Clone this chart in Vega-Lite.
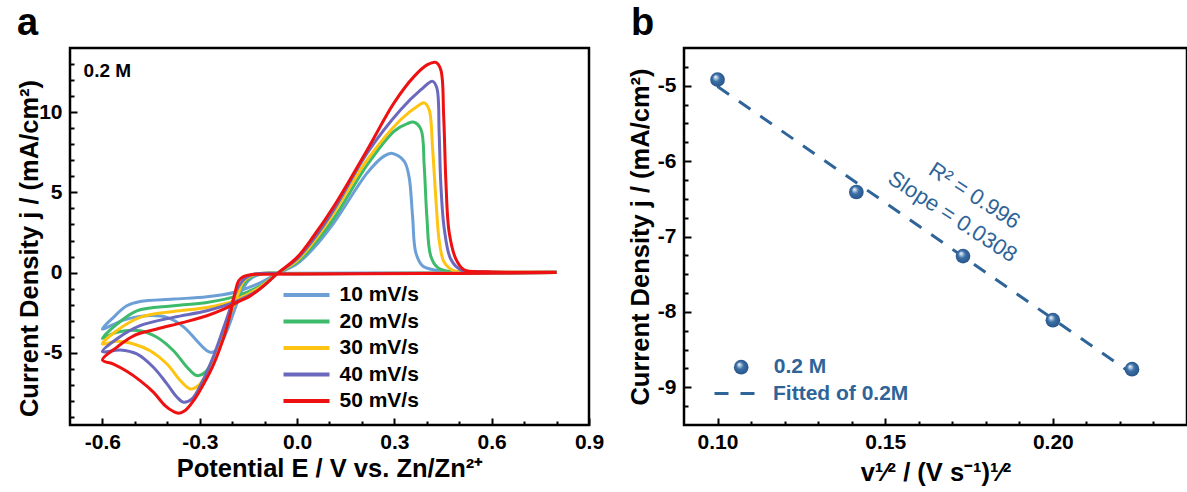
{
  "$schema": "https://vega.github.io/schema/vega-lite/v6.json",
  "background": "white",
  "padding": {"left": 15, "top": 3, "right": 0, "bottom": 0},
  "spacing": 95,
  "bounds": "flush",
  "resolve": {
    "scale": {"color": "independent", "shape": "independent", "strokeDash": "independent"},
    "legend": {"color": "independent", "shape": "independent", "strokeDash": "independent"}
  },
  "config": {
    "font": "Liberation Sans",
    "view": {"stroke": "black", "strokeWidth": 2.5},
    "locale": {"number": {"decimal": ".", "thousands": ",", "grouping": [3], "currency": ["$", ""], "minus": "-"}},
    "axis": {
      "domain": false, "grid": false,
      "labelFont": "Liberation Sans", "labelFontSize": 21, "labelFontWeight": "bold", "labelColor": "black",
      "titleFont": "Liberation Sans", "titleFontSize": 25.5, "titleFontWeight": "bold", "titleColor": "black",
      "tickColor": "black", "tickWidth": 2,
      "labelFlush": false, "labelOverlap": false, "labelBound": false
    },
    "legend": {"padding": 0, "labelFont": "Liberation Sans", "labelFontSize": 21, "labelFontWeight": "bold", "title": null}
  },
  "datasets": {
    "cv": [
      {"rate":"10 mV/s","i":1,"E":0.8,"j":0},{"rate":"10 mV/s","i":2,"E":0.5,"j":-0.02},{"rate":"10 mV/s","i":3,"E":0.2,"j":-0.03},{"rate":"10 mV/s","i":4,"E":0.0,"j":-0.04},{"rate":"10 mV/s","i":5,"E":-0.1,"j":-0.06},{"rate":"10 mV/s","i":6,"E":-0.128,"j":-0.2},{"rate":"10 mV/s","i":7,"E":-0.15,"j":-0.5},{"rate":"10 mV/s","i":8,"E":-0.17,"j":-1.14},{"rate":"10 mV/s","i":9,"E":-0.19,"j":-2.17},{"rate":"10 mV/s","i":10,"E":-0.216,"j":-3.62},{"rate":"10 mV/s","i":11,"E":-0.242,"j":-4.66},{"rate":"10 mV/s","i":12,"E":-0.262,"j":-4.97},{"rate":"10 mV/s","i":13,"E":-0.278,"j":-4.87},{"rate":"10 mV/s","i":14,"E":-0.309,"j":-4.25},{"rate":"10 mV/s","i":15,"E":-0.35,"j":-3.38},{"rate":"10 mV/s","i":16,"E":-0.401,"j":-2.79},{"rate":"10 mV/s","i":17,"E":-0.463,"j":-2.69},{"rate":"10 mV/s","i":18,"E":-0.535,"j":-2.96},{"rate":"10 mV/s","i":19,"E":-0.6,"j":-3.52},{"rate":"10 mV/s","i":20,"E":-0.566,"j":-2.79},{"rate":"10 mV/s","i":21,"E":-0.525,"j":-2.07},{"rate":"10 mV/s","i":22,"E":-0.484,"j":-1.8},{"rate":"10 mV/s","i":23,"E":-0.381,"j":-1.65},{"rate":"10 mV/s","i":24,"E":-0.278,"j":-1.51},{"rate":"10 mV/s","i":25,"E":-0.195,"j":-1.24},{"rate":"10 mV/s","i":26,"E":-0.123,"j":-0.72},{"rate":"10 mV/s","i":27,"E":-0.06,"j":-0.05},{"rate":"10 mV/s","i":28,"E":0.0,"j":0.55},{"rate":"10 mV/s","i":29,"E":0.05,"j":1.5},{"rate":"10 mV/s","i":30,"E":0.114,"j":3.12},{"rate":"10 mV/s","i":31,"E":0.217,"j":6.23},{"rate":"10 mV/s","i":32,"E":0.268,"j":7.26},{"rate":"10 mV/s","i":33,"E":0.294,"j":7.43},{"rate":"10 mV/s","i":34,"E":0.33,"j":6.95},{"rate":"10 mV/s","i":35,"E":0.345,"j":6.0},{"rate":"10 mV/s","i":36,"E":0.356,"j":3.53},{"rate":"10 mV/s","i":37,"E":0.366,"j":1.25},{"rate":"10 mV/s","i":38,"E":0.387,"j":0.42},{"rate":"10 mV/s","i":39,"E":0.423,"j":0.17},{"rate":"10 mV/s","i":40,"E":0.5,"j":0.05},{"rate":"10 mV/s","i":41,"E":0.8,"j":0.02},

      {"rate":"20 mV/s","i":1,"E":0.8,"j":0},{"rate":"20 mV/s","i":2,"E":0.5,"j":-0.03},{"rate":"20 mV/s","i":3,"E":0.2,"j":-0.05},{"rate":"20 mV/s","i":4,"E":0.0,"j":-0.06},{"rate":"20 mV/s","i":5,"E":-0.12,"j":-0.08},{"rate":"20 mV/s","i":6,"E":-0.145,"j":-0.3},{"rate":"20 mV/s","i":7,"E":-0.16,"j":-0.6},{"rate":"20 mV/s","i":8,"E":-0.175,"j":-1.03},{"rate":"20 mV/s","i":9,"E":-0.195,"j":-1.96},{"rate":"20 mV/s","i":10,"E":-0.221,"j":-3.41},{"rate":"20 mV/s","i":11,"E":-0.252,"j":-5.07},{"rate":"20 mV/s","i":12,"E":-0.283,"j":-6.21},{"rate":"20 mV/s","i":13,"E":-0.309,"j":-6.42},{"rate":"20 mV/s","i":14,"E":-0.339,"j":-5.9},{"rate":"20 mV/s","i":15,"E":-0.381,"j":-4.87},{"rate":"20 mV/s","i":16,"E":-0.432,"j":-4.03},{"rate":"20 mV/s","i":17,"E":-0.484,"j":-3.62},{"rate":"20 mV/s","i":18,"E":-0.556,"j":-3.72},{"rate":"20 mV/s","i":19,"E":-0.6,"j":-4.1},{"rate":"20 mV/s","i":20,"E":-0.556,"j":-3.23},{"rate":"20 mV/s","i":21,"E":-0.494,"j":-2.38},{"rate":"20 mV/s","i":22,"E":-0.381,"j":-2.07},{"rate":"20 mV/s","i":23,"E":-0.278,"j":-1.86},{"rate":"20 mV/s","i":24,"E":-0.185,"j":-1.45},{"rate":"20 mV/s","i":25,"E":-0.113,"j":-0.83},{"rate":"20 mV/s","i":26,"E":-0.06,"j":-0.05},{"rate":"20 mV/s","i":27,"E":0.0,"j":0.65},{"rate":"20 mV/s","i":28,"E":0.05,"j":1.7},{"rate":"20 mV/s","i":29,"E":0.114,"j":3.4},{"rate":"20 mV/s","i":30,"E":0.217,"j":6.74},{"rate":"20 mV/s","i":31,"E":0.299,"j":8.81},{"rate":"20 mV/s","i":32,"E":0.34,"j":9.29},{"rate":"20 mV/s","i":33,"E":0.361,"j":9.37},{"rate":"20 mV/s","i":34,"E":0.382,"j":8.92},{"rate":"20 mV/s","i":35,"E":0.392,"j":6.64},{"rate":"20 mV/s","i":36,"E":0.4,"j":3.53},{"rate":"20 mV/s","i":37,"E":0.412,"j":1.04},{"rate":"20 mV/s","i":38,"E":0.433,"j":0.32},{"rate":"20 mV/s","i":39,"E":0.46,"j":0.1},{"rate":"20 mV/s","i":40,"E":0.55,"j":0.03},{"rate":"20 mV/s","i":41,"E":0.8,"j":0.02},

      {"rate":"30 mV/s","i":1,"E":0.8,"j":0},{"rate":"30 mV/s","i":2,"E":0.5,"j":-0.04},{"rate":"30 mV/s","i":3,"E":0.2,"j":-0.05},{"rate":"30 mV/s","i":4,"E":0.0,"j":-0.07},{"rate":"30 mV/s","i":5,"E":-0.13,"j":-0.1},{"rate":"30 mV/s","i":6,"E":-0.155,"j":-0.35},{"rate":"30 mV/s","i":7,"E":-0.17,"j":-0.7},{"rate":"30 mV/s","i":8,"E":-0.18,"j":-1.24},{"rate":"30 mV/s","i":9,"E":-0.206,"j":-2.59},{"rate":"30 mV/s","i":10,"E":-0.236,"j":-4.45},{"rate":"30 mV/s","i":11,"E":-0.273,"j":-6.11},{"rate":"30 mV/s","i":12,"E":-0.304,"j":-7.04},{"rate":"30 mV/s","i":13,"E":-0.329,"j":-7.25},{"rate":"30 mV/s","i":14,"E":-0.36,"j":-6.73},{"rate":"30 mV/s","i":15,"E":-0.401,"j":-5.7},{"rate":"30 mV/s","i":16,"E":-0.453,"j":-4.87},{"rate":"30 mV/s","i":17,"E":-0.504,"j":-4.45},{"rate":"30 mV/s","i":18,"E":-0.556,"j":-4.28},{"rate":"30 mV/s","i":19,"E":-0.6,"j":-4.45},{"rate":"30 mV/s","i":20,"E":-0.556,"j":-3.62},{"rate":"30 mV/s","i":21,"E":-0.484,"j":-2.79},{"rate":"30 mV/s","i":22,"E":-0.381,"j":-2.42},{"rate":"30 mV/s","i":23,"E":-0.278,"j":-2.17},{"rate":"30 mV/s","i":24,"E":-0.195,"j":-1.76},{"rate":"30 mV/s","i":25,"E":-0.123,"j":-1.03},{"rate":"30 mV/s","i":26,"E":-0.06,"j":-0.05},{"rate":"30 mV/s","i":27,"E":0.0,"j":0.75},{"rate":"30 mV/s","i":28,"E":0.05,"j":1.9},{"rate":"30 mV/s","i":29,"E":0.114,"j":3.74},{"rate":"30 mV/s","i":30,"E":0.217,"j":7.05},{"rate":"30 mV/s","i":31,"E":0.32,"j":9.54},{"rate":"30 mV/s","i":32,"E":0.371,"j":10.37},{"rate":"30 mV/s","i":33,"E":0.392,"j":10.58},{"rate":"30 mV/s","i":34,"E":0.407,"j":10.16},{"rate":"30 mV/s","i":35,"E":0.418,"j":7.68},{"rate":"30 mV/s","i":36,"E":0.428,"j":4.57},{"rate":"30 mV/s","i":37,"E":0.439,"j":1.87},{"rate":"30 mV/s","i":38,"E":0.454,"j":0.63},{"rate":"30 mV/s","i":39,"E":0.485,"j":0.1},{"rate":"30 mV/s","i":40,"E":0.55,"j":0.04},{"rate":"30 mV/s","i":41,"E":0.8,"j":0.02},

      {"rate":"40 mV/s","i":1,"E":0.8,"j":0},{"rate":"40 mV/s","i":2,"E":0.5,"j":-0.04},{"rate":"40 mV/s","i":3,"E":0.2,"j":-0.06},{"rate":"40 mV/s","i":4,"E":0.0,"j":-0.08},{"rate":"40 mV/s","i":5,"E":-0.135,"j":-0.1},{"rate":"40 mV/s","i":6,"E":-0.16,"j":-0.35},{"rate":"40 mV/s","i":7,"E":-0.175,"j":-0.7},{"rate":"40 mV/s","i":8,"E":-0.185,"j":-1.03},{"rate":"40 mV/s","i":9,"E":-0.2,"j":-1.86},{"rate":"40 mV/s","i":10,"E":-0.226,"j":-3.41},{"rate":"40 mV/s","i":11,"E":-0.257,"j":-5.18},{"rate":"40 mV/s","i":12,"E":-0.293,"j":-6.83},{"rate":"40 mV/s","i":13,"E":-0.324,"j":-7.87},{"rate":"40 mV/s","i":14,"E":-0.35,"j":-8.08},{"rate":"40 mV/s","i":15,"E":-0.37,"j":-7.77},{"rate":"40 mV/s","i":16,"E":-0.401,"j":-6.94},{"rate":"40 mV/s","i":17,"E":-0.443,"j":-5.9},{"rate":"40 mV/s","i":18,"E":-0.494,"j":-5.07},{"rate":"40 mV/s","i":19,"E":-0.545,"j":-4.82},{"rate":"40 mV/s","i":20,"E":-0.6,"j":-4.93},{"rate":"40 mV/s","i":21,"E":-0.556,"j":-4.14},{"rate":"40 mV/s","i":22,"E":-0.484,"j":-3.31},{"rate":"40 mV/s","i":23,"E":-0.381,"j":-2.79},{"rate":"40 mV/s","i":24,"E":-0.278,"j":-2.38},{"rate":"40 mV/s","i":25,"E":-0.195,"j":-1.86},{"rate":"40 mV/s","i":26,"E":-0.123,"j":-1.14},{"rate":"40 mV/s","i":27,"E":-0.06,"j":-0.05},{"rate":"40 mV/s","i":28,"E":0.0,"j":0.85},{"rate":"40 mV/s","i":29,"E":0.05,"j":2.05},{"rate":"40 mV/s","i":30,"E":0.114,"j":3.94},{"rate":"40 mV/s","i":31,"E":0.217,"j":7.47},{"rate":"40 mV/s","i":32,"E":0.32,"j":10.16},{"rate":"40 mV/s","i":33,"E":0.382,"j":11.4},{"rate":"40 mV/s","i":34,"E":0.418,"j":11.92},{"rate":"40 mV/s","i":35,"E":0.431,"j":11.5},{"rate":"40 mV/s","i":36,"E":0.438,"j":8.71},{"rate":"40 mV/s","i":37,"E":0.443,"j":5.6},{"rate":"40 mV/s","i":38,"E":0.454,"j":2.7},{"rate":"40 mV/s","i":39,"E":0.474,"j":0.83},{"rate":"40 mV/s","i":40,"E":0.505,"j":0.17},{"rate":"40 mV/s","i":41,"E":0.56,"j":0.05},{"rate":"40 mV/s","i":42,"E":0.8,"j":0.02},

      {"rate":"50 mV/s","i":1,"E":0.8,"j":0},{"rate":"50 mV/s","i":2,"E":0.5,"j":-0.05},{"rate":"50 mV/s","i":3,"E":0.2,"j":-0.07},{"rate":"50 mV/s","i":4,"E":0.0,"j":-0.09},{"rate":"50 mV/s","i":5,"E":-0.1,"j":-0.1},{"rate":"50 mV/s","i":6,"E":-0.139,"j":-0.12},{"rate":"50 mV/s","i":7,"E":-0.164,"j":-0.24},{"rate":"50 mV/s","i":8,"E":-0.18,"j":-0.51},{"rate":"50 mV/s","i":9,"E":-0.19,"j":-1.14},{"rate":"50 mV/s","i":10,"E":-0.206,"j":-2.59},{"rate":"50 mV/s","i":11,"E":-0.226,"j":-4.03},{"rate":"50 mV/s","i":12,"E":-0.257,"j":-5.7},{"rate":"50 mV/s","i":13,"E":-0.288,"j":-6.94},{"rate":"50 mV/s","i":14,"E":-0.319,"j":-7.98},{"rate":"50 mV/s","i":15,"E":-0.345,"j":-8.6},{"rate":"50 mV/s","i":16,"E":-0.365,"j":-8.76},{"rate":"50 mV/s","i":17,"E":-0.381,"j":-8.66},{"rate":"50 mV/s","i":18,"E":-0.407,"j":-8.29},{"rate":"50 mV/s","i":19,"E":-0.443,"j":-7.45},{"rate":"50 mV/s","i":20,"E":-0.484,"j":-6.73},{"rate":"50 mV/s","i":21,"E":-0.525,"j":-6.15},{"rate":"50 mV/s","i":22,"E":-0.566,"j":-5.7},{"rate":"50 mV/s","i":23,"E":-0.6,"j":-5.45},{"rate":"50 mV/s","i":24,"E":-0.556,"j":-4.66},{"rate":"50 mV/s","i":25,"E":-0.504,"j":-3.94},{"rate":"50 mV/s","i":26,"E":-0.432,"j":-3.52},{"rate":"50 mV/s","i":27,"E":-0.35,"j":-3.1},{"rate":"50 mV/s","i":28,"E":-0.278,"j":-2.69},{"rate":"50 mV/s","i":29,"E":-0.226,"j":-2.28},{"rate":"50 mV/s","i":30,"E":-0.185,"j":-1.86},{"rate":"50 mV/s","i":31,"E":-0.144,"j":-1.45},{"rate":"50 mV/s","i":32,"E":-0.103,"j":-0.83},{"rate":"50 mV/s","i":33,"E":-0.06,"j":-0.05},{"rate":"50 mV/s","i":34,"E":0.0,"j":0.95},{"rate":"50 mV/s","i":35,"E":0.05,"j":2.25},{"rate":"50 mV/s","i":36,"E":0.114,"j":4.15},{"rate":"50 mV/s","i":37,"E":0.217,"j":7.68},{"rate":"50 mV/s","i":38,"E":0.299,"j":10.58},{"rate":"50 mV/s","i":39,"E":0.361,"j":12.23},{"rate":"50 mV/s","i":40,"E":0.402,"j":12.96},{"rate":"50 mV/s","i":41,"E":0.428,"j":13.1},{"rate":"50 mV/s","i":42,"E":0.443,"j":12.65},{"rate":"50 mV/s","i":43,"E":0.452,"j":9.75},{"rate":"50 mV/s","i":44,"E":0.459,"j":5.6},{"rate":"50 mV/s","i":45,"E":0.469,"j":2.5},{"rate":"50 mV/s","i":46,"E":0.49,"j":0.83},{"rate":"50 mV/s","i":47,"E":0.515,"j":0.17},{"rate":"50 mV/s","i":48,"E":0.588,"j":0.05},{"rate":"50 mV/s","i":49,"E":0.8,"j":0.02}
    ],
    "pts": [
      {"name": "0.2 M", "v": 0.1, "j": -4.92},
      {"name": "0.2 M", "v": 0.1414, "j": -6.41},
      {"name": "0.2 M", "v": 0.1732, "j": -7.26},
      {"name": "0.2 M", "v": 0.2, "j": -8.11},
      {"name": "0.2 M", "v": 0.2236, "j": -8.76}
    ],
    "fit": [
      {"name": "Fitted of 0.2M", "v": 0.1, "j": -5.01},
      {"name": "Fitted of 0.2M", "v": 0.2236, "j": -8.82}
    ]
  },
  "hconcat": [
    {
      "width": 519, "height": 377,
      "title": {"text": "a", "anchor": "start", "frame": "group", "dx": -53, "fontSize": 38, "fontWeight": "bold", "font": "Liberation Sans", "baseline": "alphabetic", "offset": -25, "color": "black"},
      "resolve": {"axis": {"x": "independent", "y": "independent"}},
      "layer": [
        {
          "data": {"name": "cv"},
          "mark": {"type": "line", "strokeWidth": 3, "interpolate": "catmull-rom"},
          "encoding": {
            "x": {"field": "E", "type": "quantitative",
              "scale": {"domain": [-0.7, 0.9], "nice": false, "zero": false},
              "axis": {"orient": "bottom", "title": "Potential E / V vs. Zn/Zn²⁺", "format": ".1f",
                "values": [-0.6, -0.3, 0, 0.3, 0.6, 0.9], "tickSize": -7, "labelPadding": 13,
                "titleY": 51, "titleBaseline": "alphabetic"}},
            "y": {"field": "j", "type": "quantitative",
              "scale": {"domain": [-9.5, 14], "nice": false, "zero": false},
              "axis": {"orient": "left", "title": "Current Density j / (mA/cm²)", "format": "d",
                "values": [-5, 0, 5, 10], "tickSize": -7, "labelPadding": 15,
                "titleX": -41, "titleY": 200, "titleBaseline": "middle"}},
            "color": {"field": "rate", "type": "nominal",
              "scale": {"domain": ["10 mV/s", "20 mV/s", "30 mV/s", "40 mV/s", "50 mV/s"],
                        "range": ["#6B9FD6", "#3DBB6B", "#FFC412", "#6A69BE", "#EE1111"]},
              "legend": {"orient": "none", "legendX": 224.5, "legendY": 235, "symbolType": "M-2.3,0H2.3", "symbolSize": 400, "symbolStrokeWidth": 4, "labelOffset": 21, "rowPadding": 4.5, "labelColor": "black"}},
            "order": {"field": "i", "type": "quantitative"}
          }
        },
        {
          "data": {"values": [{"label": "0.2 M"}]},
          "mark": {"type": "text", "align": "left", "baseline": "alphabetic", "fontSize": 19, "fontWeight": "bold", "font": "Liberation Sans", "color": "black"},
          "encoding": {
            "x": {"datum": -0.658, "type": "quantitative",
              "axis": {"orient": "bottom", "title": null, "labels": false, "tickSize": -4,
                "values": [-0.5, -0.4, -0.2, -0.1, 0.1, 0.2, 0.4, 0.5, 0.7, 0.8]}},
            "y": {"datum": 12.2, "type": "quantitative",
              "axis": {"orient": "left", "title": null, "labels": false, "tickSize": -4,
                "values": [-9, -8, -7, -6, -4, -3, -2, -1, 1, 2, 3, 4, 6, 7, 8, 9, 11, 12, 13]}},
            "text": {"field": "label"}
          }
        }
      ]
    },
    {
      "width": 503, "height": 377,
      "title": {"text": "b", "anchor": "start", "frame": "group", "dx": -53, "fontSize": 38, "fontWeight": "bold", "font": "Liberation Sans", "baseline": "alphabetic", "offset": -25, "color": "black"},
      "resolve": {"axis": {"x": "independent", "y": "independent"}},
      "layer": [
        {
          "data": {"name": "fit"},
          "mark": {"type": "line", "strokeWidth": 3, "color": "#2E6498"},
          "encoding": {
            "x": {"field": "v", "type": "quantitative",
              "scale": {"domain": [0.09, 0.24], "nice": false, "zero": false},
              "axis": {"orient": "bottom", "title": "v¹⁄² / (V s⁻¹)¹⁄²", "format": ".2f",
                "values": [0.1, 0.15, 0.2], "tickSize": -7, "labelPadding": 13,
                "titleY": 55, "titleBaseline": "alphabetic"}},
            "y": {"field": "j", "type": "quantitative",
              "scale": {"domain": [-9.5, -4.5], "nice": false, "zero": false},
              "axis": {"orient": "left", "title": "Current Density j / (mA/cm²)", "format": "d",
                "values": [-9, -8, -7, -6, -5], "tickSize": -7, "labelPadding": 15,
                "titleX": -44, "titleBaseline": "middle"}},
            "strokeDash": {"field": "name", "type": "nominal",
              "scale": {"domain": ["Fitted of 0.2M"], "range": [[14, 12]]},
              "legend": {"orient": "none", "legendX": 40, "legendY": 334, "symbolType": "M-2.1,0H2.1", "symbolSize": 400, "symbolStrokeWidth": 3, "symbolStrokeColor": "#2E6498", "symbolDash": [13, 15], "labelOffset": 26, "labelColor": "#2E6498"}}
          }
        },
        {
          "data": {"name": "pts"},
          "mark": {"type": "point", "filled": true, "size": 215, "opacity": 1,
            "fill": {"gradient": "radial", "x1": 0.35, "y1": 0.3, "r1": 0, "x2": 0.5, "y2": 0.5, "r2": 0.55,
              "stops": [{"offset": 0, "color": "#ffffff"}, {"offset": 0.2, "color": "#a9c3de"}, {"offset": 0.45, "color": "#3b6fa5"}, {"offset": 1, "color": "#255287"}]}},
          "encoding": {
            "x": {"field": "v", "type": "quantitative", "axis": null},
            "y": {"field": "j", "type": "quantitative", "axis": null},
            "shape": {"field": "name", "type": "nominal",
              "scale": {"domain": ["0.2 M"], "range": ["circle"]},
              "legend": {"orient": "none", "legendX": 46.7, "legendY": 308.7, "symbolSize": 215, "symbolFillColor": "#2E6498", "symbolStrokeColor": "#2E6498", "symbolStrokeWidth": 0, "labelOffset": 22, "labelColor": "#2E6498"}}
          }
        },
        {
          "data": {"values": [{"label": "R² = 0.996"}]},
          "mark": {"type": "text", "align": "center", "baseline": "middle", "angle": 33, "fontSize": 22, "font": "Liberation Sans", "color": "#2E6498"},
          "encoding": {
            "x": {"datum": 0.1766, "type": "quantitative",
              "axis": {"orient": "bottom", "title": null, "labels": false, "tickSize": -4,
                "values": [0.11, 0.12, 0.13, 0.14, 0.16, 0.17, 0.18, 0.19, 0.21, 0.22, 0.23]}},
            "y": {"datum": -6.459, "type": "quantitative",
              "axis": {"orient": "left", "title": null, "labels": false, "tickSize": -4,
                "values": [-9.25, -8.75, -8.5, -8.25, -7.75, -7.5, -7.25, -6.75, -6.5, -6.25, -5.75, -5.5, -5.25, -4.75]}},
            "text": {"field": "label"}
          }
        },
        {
          "data": {"values": [{"label": "Slope = 0.0308"}]},
          "mark": {"type": "text", "align": "center", "baseline": "middle", "angle": 33, "fontSize": 22, "font": "Liberation Sans", "color": "#2E6498"},
          "encoding": {
            "x": {"datum": 0.1701, "type": "quantitative", "axis": null},
            "y": {"datum": -6.737, "type": "quantitative", "axis": null},
            "text": {"field": "label"}
          }
        }
      ]
    }
  ]
}
